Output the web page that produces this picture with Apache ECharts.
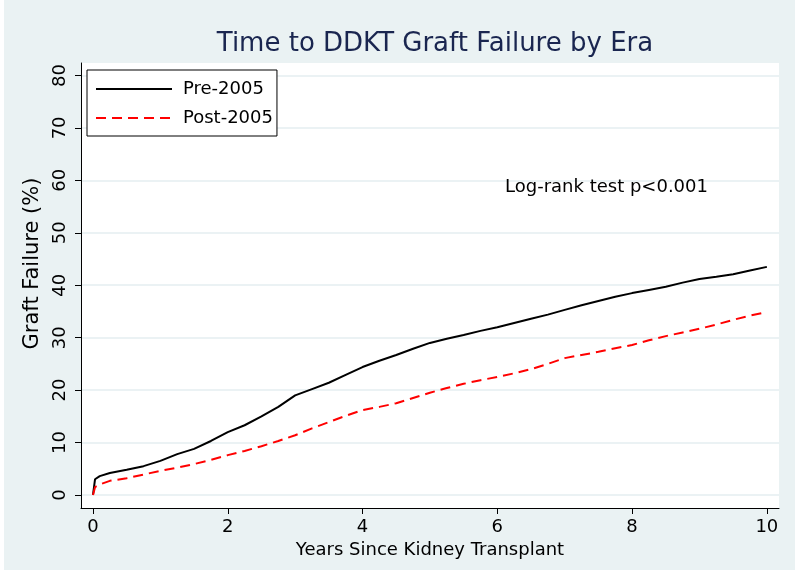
<!DOCTYPE html>
<html>
<head>
<meta charset="utf-8">
<script src="https://cdn.jsdelivr.net/npm/echarts@6/dist/echarts.min.js"></script>
<style>
html,body{margin:0;padding:0;background:#fff;}
#chart{width:800px;height:571px;}
</style>
</head>
<body>
<div id="chart"></div>
<script>
// Years since transplant at which the curves were read
var years = [0, 0.03, 0.1, 0.25, 0.5, 0.75, 1, 1.25, 1.5, 1.75, 2, 2.25, 2.5, 2.75, 3, 3.25, 3.5, 3.75, 4, 4.25, 4.5, 4.75, 5, 5.25, 5.5, 5.75, 6, 6.25, 6.5, 6.75, 7, 7.25, 7.5, 7.75, 8, 8.25, 8.5, 8.75, 9, 9.25, 9.5, 9.75, 10];
// Graft failure (%) - Pre-2005
var pre2005 = [0, 3.0, 3.6, 4.2, 4.8, 5.5, 6.5, 7.8, 8.8, 10.3, 12.0, 13.3, 15.0, 16.8, 19.0, 20.2, 21.4, 22.9, 24.4, 25.6, 26.7, 27.9, 29.0, 29.8, 30.5, 31.3, 32.0, 32.8, 33.6, 34.4, 35.3, 36.2, 37.0, 37.8, 38.5, 39.1, 39.7, 40.5, 41.2, 41.6, 42.1, 42.8, 43.5];
// Graft failure (%) - Post-2005
var post2005 = [0, 1.5, 2.0, 2.7, 3.2, 3.9, 4.6, 5.2, 5.9, 6.7, 7.6, 8.4, 9.3, 10.3, 11.4, 12.7, 13.9, 15.1, 16.2, 16.8, 17.5, 18.5, 19.5, 20.4, 21.2, 21.9, 22.5, 23.2, 24.0, 25.0, 26.1, 26.7, 27.3, 28.0, 28.6, 29.5, 30.3, 31.0, 31.7, 32.5, 33.4, 34.2, 34.9];
var yTicks = [0, 10, 20, 30, 40, 50, 60, 70, 80];
var xTicks = [0, 2, 4, 6, 8, 10];
var seriesNames = ['Pre-2005', 'Post-2005'];

function pairs(xs, ys) { return xs.map(function (x, i) { return [x, ys[i]]; }); }

var FONT = 'DejaVu Sans';
var chart = echarts.init(document.getElementById('chart'), null, {renderer: 'canvas'});
chart.setOption({
  backgroundColor: '#ffffff',
  animation: false,
  graphic: [{
    type: 'rect', z: -10, silent: true,
    shape: {x: 4, y: 0, width: 791, height: 570},
    style: {fill: '#eaf2f3'}
  }],
  title: [{
    text: 'Time to DDKT Graft Failure by Era',
    left: 430, textAlign: 'center', top: 26,
    textStyle: {fontFamily: FONT, fontSize: 26, fontWeight: 'normal', color: '#1a2650'}
  }, {
    text: 'Log-rank test p<0.001',
    left: 500, top: 173,
    textStyle: {fontFamily: FONT, fontSize: 18, fontWeight: 'normal', color: '#000'}
  }],
  legend: {
    data: seriesNames,
    orient: 'vertical',
    left: 87, top: 70,
    itemWidth: 76, itemHeight: 14, itemGap: 11,
    padding: [10, 4, 9, 8],
    backgroundColor: '#fff',
    borderColor: '#000', borderWidth: 1,
    itemStyle: {opacity: 0},
    textStyle: {fontFamily: FONT, fontSize: 18, color: '#000', padding: [0, 0, 0, 6]}
  },
  grid: {
    left: 81, right: 21, top: 63, bottom: 63,
    show: true, backgroundColor: '#fff', borderWidth: 0
  },
  xAxis: {
    type: 'value', min: -0.178, max: 10.18,
    name: 'Years Since Kidney Transplant', nameLocation: 'middle', nameGap: 33,
    nameTextStyle: {fontFamily: FONT, fontSize: 18, color: '#000'},
    axisLine: {show: true, onZero: false, lineStyle: {color: '#000', width: 1}},
    axisTick: {show: true, length: 6, lineStyle: {color: '#000'}, customValues: xTicks},
    axisLabel: {fontFamily: FONT, fontSize: 18, color: '#000', margin: 10, customValues: xTicks},
    splitLine: {show: false}
  },
  yAxis: {
    type: 'value', min: -2.48, max: 82.38,
    name: 'Graft Failure (%)', nameLocation: 'middle', nameGap: 38,
    nameTextStyle: {fontFamily: FONT, fontSize: 21, color: '#000', padding: [0, 0, 0, 44]},
    axisLine: {show: true, onZero: false, lineStyle: {color: '#000', width: 1}},
    axisTick: {show: true, length: 6, lineStyle: {color: '#000'}, customValues: yTicks},
    axisLabel: {fontFamily: FONT, fontSize: 18, color: '#000', rotate: 90, margin: 12, customValues: yTicks},
    splitLine: {show: true, lineStyle: {color: '#e4eef1', width: 1.5}}
  },
  series: [{
    name: seriesNames[0], type: 'line', data: pairs(years, pre2005),
    symbol: 'none', showSymbol: false,
    lineStyle: {color: '#000', width: 2}, itemStyle: {color: '#000'}
  }, {
    name: seriesNames[1], type: 'line', data: pairs(years, post2005),
    symbol: 'none', showSymbol: false,
    lineStyle: {color: '#ff0000', width: 2, type: [10, 6]}, itemStyle: {color: '#ff0000'}
  }]
});
</script>
</body>
</html>
